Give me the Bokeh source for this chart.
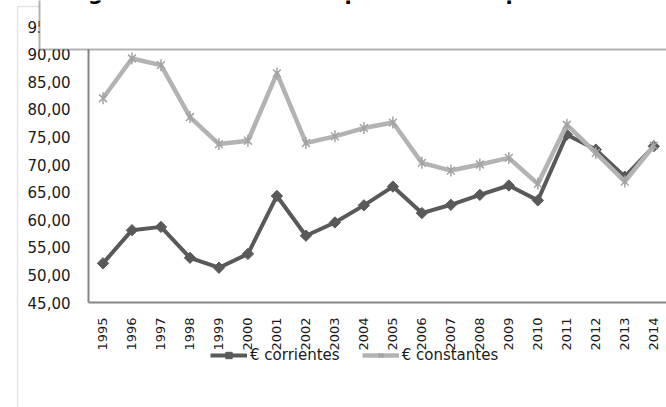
import math
from bokeh.plotting import figure
from bokeh.models import Range1d, FixedTicker, Label, Legend, LegendItem, BoxAnnotation
from bokeh.embed import file_html
from bokeh.resources import INLINE

# ---------------- data ----------------
years = [1995, 1996, 1997, 1998, 1999, 2000, 2001, 2002, 2003, 2004,
         2005, 2006, 2007, 2008, 2009, 2010, 2011, 2012, 2013, 2014]
corrientes = [52.1, 58.1, 58.7, 53.1, 51.3, 53.8, 64.3, 57.1, 59.5, 62.6,
              66.0, 61.2, 62.7, 64.5, 66.2, 63.5, 75.4, 72.7, 67.8, 73.3]
constantes = [82.0, 89.2, 88.0, 78.6, 73.7, 74.3, 86.5, 73.9, 75.1, 76.6,
              77.6, 70.3, 68.9, 70.0, 71.2, 66.5, 77.2, 72.1, 66.9, 73.4]
y_ticks = [45, 50, 55, 60, 65, 70, 75, 80, 85, 90, 95]
y_tick_labels = ["45,00", "50,00", "55,00", "60,00", "65,00", "70,00",
                 "75,00", "80,00", "85,00", "90,00", "95,00"]
year_labels = [str(y) for y in years]
series_names = ["€ corrientes", "€ constantes"]
title_text = "Figura 4. Evolución del precio medio ponderado de"

# ---------------- layout (page pixels) ----------------
W, H = 666, 407
PL, PR, PT, PB = 88, 666, 26, 302        # plot-area edges in pixels
Y0, Y1 = 45, 95
XS = 28.99                               # px per category
X0 = years[0] - 0.5                      # category edge at PL
YS = (PB - PT) / (Y1 - Y0)               # px per unit


def px2x(px):
    return X0 + (px - PL) / XS


def px2y(py):
    return Y0 + (PB - py) / YS


FONT = "DejaVu Sans"
BORDER = "#a6a6a6"

# the frame spans the whole canvas; the axes are pinned to the plot-area edges
p = figure(width=W, height=H, output_backend="svg", toolbar_location=None,
           title=None,
           x_range=Range1d(px2x(0), px2x(W)), y_range=Range1d(px2y(H), px2y(0)),
           min_border=0)
p.outline_line_color = None
p.background_fill_color = "white"
p.border_fill_color = "white"
p.xgrid.visible = False
p.ygrid.visible = False

# y axis
ya = p.yaxis[0]
ya.fixed_location = X0
ya.bounds = (Y0, Y1)
ya.ticker = FixedTicker(ticks=y_ticks)
ya.major_label_overrides = dict(zip(y_ticks, y_tick_labels))
ya.major_tick_line_color = None
ya.minor_tick_line_color = None
ya.axis_line_color = "#868686"
ya.axis_line_width = 2
ya.major_label_standoff = 12
ya.major_label_text_font = FONT
ya.major_label_text_font_size = "15px"
ya.major_label_text_color = "#1a1a1a"

# x axis
xa = p.xaxis[0]
xa.fixed_location = Y0
xa.bounds = (X0, px2x(W + 20))
xa.ticker = FixedTicker(ticks=years)
xa.major_label_overrides = dict(zip(years, year_labels))
xa.major_label_orientation = math.pi / 2
xa.major_tick_line_color = None
xa.minor_tick_line_color = None
xa.axis_line_color = "#868686"
xa.axis_line_width = 2
xa.major_label_standoff = 9
xa.major_label_text_font = FONT
xa.major_label_text_font_size = "13px"
xa.major_label_text_color = "#1a1a1a"

# series
DARK = "#595959"
LIGHT = "#b3b3b3"
LIGHT_MK = "#a3a3a3"
r1l = p.line(years, corrientes, line_color=DARK, line_width=4, line_join="round")
r1m = p.scatter(years, corrientes, marker="square", angle=math.pi / 4, size=8,
                fill_color=DARK, line_color=DARK, line_width=1)
r2l = p.line(years, constantes, line_color=LIGHT, line_width=4.5, line_join="round")
r2m1 = p.scatter(years, constantes, marker="x", size=11, line_color=LIGHT_MK, line_width=1.5)
r2m2 = p.scatter(years, constantes, marker="dash", angle=math.pi / 2, size=12,
                 line_color=LIGHT_MK, line_width=1.5)

legend = Legend(items=[LegendItem(label=series_names[0], renderers=[r1l, r1m]),
                       LegendItem(label=series_names[1], renderers=[r2l, r2m1, r2m2])],
                orientation="horizontal", location=(210, H - 364),
                glyph_width=37, glyph_height=16, label_standoff=3, spacing=22,
                padding=0, margin=0, border_line_color=None,
                background_fill_alpha=0,
                label_text_font=FONT, label_text_font_size="15px",
                label_text_color="#1a1a1a")
p.add_layout(legend)

# outer chart border
p.add_layout(BoxAnnotation(left=px2x(17), right=px2x(W + 40), top=px2y(6), bottom=px2y(H + 40),
                           fill_alpha=0, line_color=BORDER, line_width=1.3))
# title box (cut off by the top of the picture, as in the original)
p.add_layout(BoxAnnotation(left=px2x(39), right=px2x(W + 40), top=px2y(-40), bottom=px2y(49),
                           fill_color="white", fill_alpha=1, line_color="black", line_width=2))
p.add_layout(Label(x=px2x(66), y=px2y(-8), text=title_text,
                   text_font=FONT, text_font_style="bold", text_font_size="21px",
                   text_baseline="alphabetic", text_color="black"))

open("out.html", "w").write(file_html(p, INLINE))
